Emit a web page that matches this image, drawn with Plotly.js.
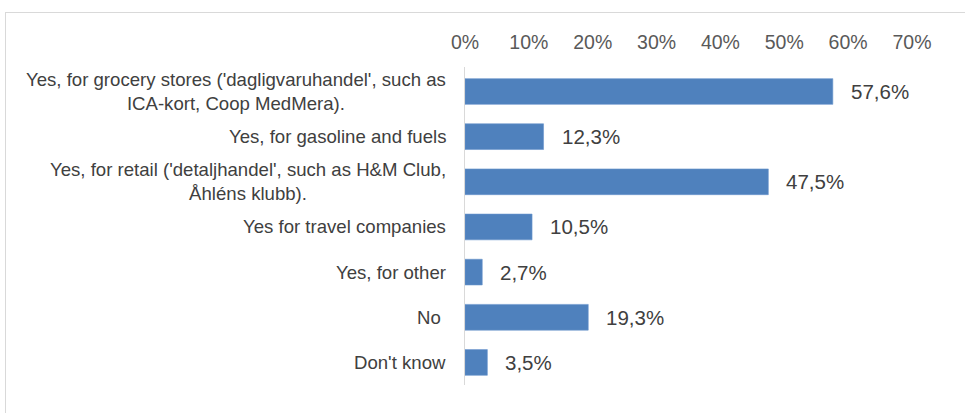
<!DOCTYPE html>
<html>
<head>
<meta charset="utf-8">
<script src="https://cdn.plot.ly/plotly-3.0.1.min.js"></script>
<style>
  html, body { margin: 0; padding: 0; background: #fff; }
  #wrap { position: relative; width: 965px; height: 413px; overflow: hidden; }
  #chart { width: 965px; height: 413px; }
  #frame { position: absolute; left: 5px; top: 12px; width: 970px; height: 420px;
           border-left: 1.5px solid #d9d9d9; border-top: 1.5px solid #d9d9d9; pointer-events: none; }
</style>
</head>
<body>
<div id="wrap">
  <div id="chart"></div>
  <div id="frame"></div>
</div>
<script>
const categories = [
  "Yes, for grocery stores",
  "Yes, for gasoline and fuels",
  "Yes, for retail",
  "Yes for travel companies",
  "Yes, for other",
  "No",
  "Don't know"
];
const categoryLabels = [
  "Yes, for grocery stores ('dagligvaruhandel', such as<br>ICA-kort, Coop MedMera).",
  "Yes, for gasoline and fuels",
  "Yes, for retail ('detaljhandel', such as H&M Club,<br>Åhléns klubb).",
  "Yes for travel companies",
  "Yes, for other",
  "No\u00a0",
  "Don't know"
];
const values = [57.6, 12.3, 47.5, 10.5, 2.7, 19.3, 3.5];
const tickValues = [0, 10, 20, 30, 40, 50, 60, 70];

const fontFamily = "'Liberation Sans', Arial, sans-serif";

const fmt = v => v.toFixed(1).replace('.', ',') + '%';

const trace = {
  type: 'bar',
  orientation: 'h',
  x: values,
  y: categories,
  width: 0.57,
  marker: { color: '#4f81bd', line: { color: '#6a96cc', width: 0.6 } },
  hoverinfo: 'none'
};

const annotations = [];
categories.forEach((c, i) => {
  annotations.push({
    xref: 'paper', yref: 'y', x: 0, y: c,
    xanchor: 'right', yanchor: 'middle', xshift: -17,
    text: categoryLabels[i], align: 'center', showarrow: false,
    font: { family: fontFamily, size: 18.6, color: '#404040' }
  });
  annotations.push({
    xref: 'x', yref: 'y', x: values[i], y: c,
    xanchor: 'left', yanchor: 'middle', xshift: 16,
    text: fmt(values[i]), showarrow: false,
    font: { family: fontFamily, size: 20.5, color: '#404040' }
  });
});

const layout = {
  width: 965, height: 413,
  margin: { l: 465, r: 53, t: 67, b: 28, pad: 0 },
  paper_bgcolor: 'rgba(0,0,0,0)',
  plot_bgcolor: 'rgba(0,0,0,0)',
  showlegend: false,
  font: { family: fontFamily, color: '#595959' },
  xaxis: {
    side: 'top',
    range: [0, 70],
    tickvals: tickValues,
    ticktext: tickValues.map(v => v + '%'),
    showgrid: false, zeroline: false, showline: false,
    ticks: 'outside', ticklen: 9, tickcolor: 'rgba(0,0,0,0)',
    tickfont: { family: fontFamily, size: 19.5, color: '#595959' },
    fixedrange: true
  },
  yaxis: {
    type: 'category',
    autorange: 'reversed',
    showticklabels: false,
    showgrid: false, zeroline: false,
    showline: true, linecolor: '#d9d9d9', linewidth: 1.5,
    ticks: '',
    fixedrange: true
  },
  annotations: annotations
};

Plotly.newPlot('chart', [trace], layout, { staticPlot: true, displayModeBar: false });
</script>
</body>
</html>
